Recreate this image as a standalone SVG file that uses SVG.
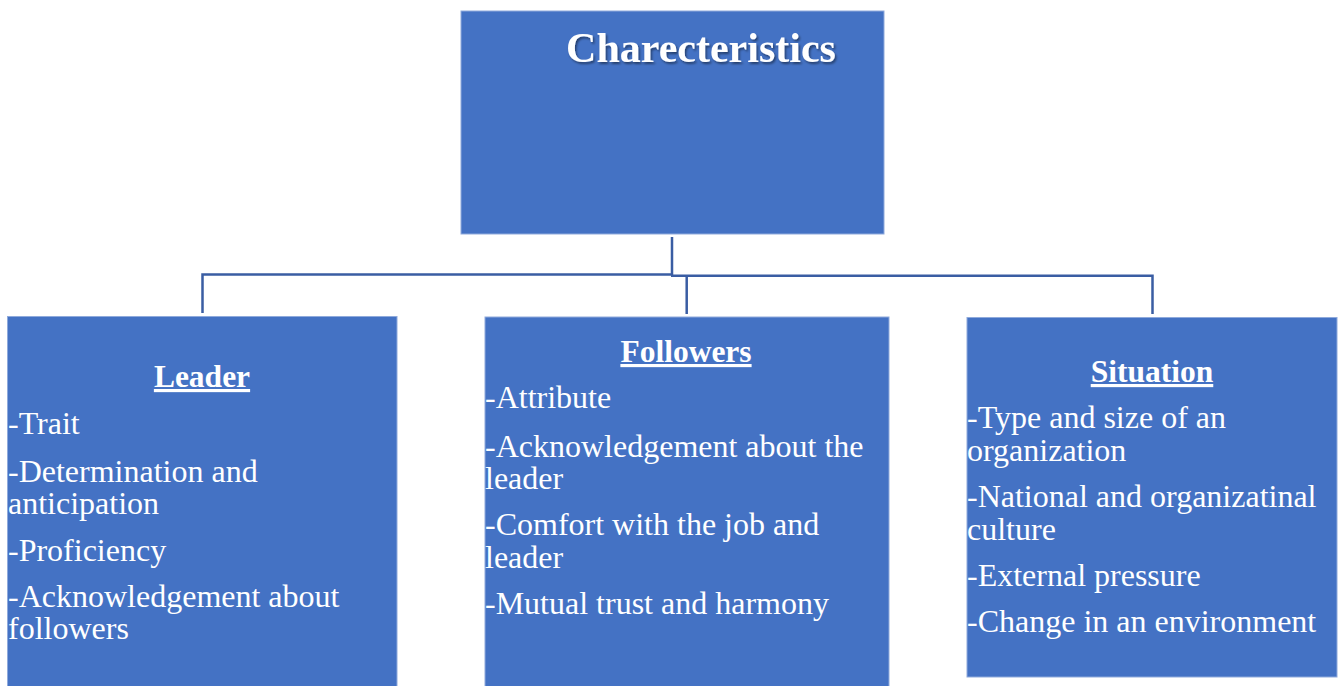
<svg xmlns="http://www.w3.org/2000/svg" width="1341" height="686" viewBox="0 0 1341 686">
<style>
.box{fill:#4472C4;stroke:#8FAADC;stroke-width:1}
.conn{stroke:#3A5DA3;stroke-width:2.5;fill:none}
text{font-family:"Liberation Serif","Times New Roman",serif;fill:#fff}
.item{font-size:32px}
.head{font-size:31.5px;font-weight:bold;text-decoration:underline;text-anchor:middle}
.title{font-size:42px;font-weight:bold;text-anchor:middle}
</style>
<defs>
<filter id="sh" x="-10%" y="-30%" width="120%" height="160%">
<feDropShadow dx="1.5" dy="2" stdDeviation="1.2" flood-color="#000" flood-opacity="0.45"/>
</filter>
</defs>
<rect width="1341" height="686" fill="#fff"/>
<g id="connectors">
<path class="conn" d="M672,237 V274.5 M202.5,313 V274.5 H673 M671,275.7 H1152.5 V314 M686.7,275.7 V314"/>
</g>
<g id="characteristics">
<rect class="box" x="461" y="11" width="423" height="223"/>
<text class="title" x="701" y="62" filter="url(#sh)">Charecteristics</text>
</g>
<g id="leader">
<rect class="box" x="7.5" y="316.5" width="389.5" height="372"/>
<text class="head" x="202" y="387">Leader</text>
<text class="item" x="8" y="434">-Trait</text>
<text class="item" x="8" y="482">-Determination and</text>
<text class="item" x="8" y="514">anticipation</text>
<text class="item" x="8" y="561">-Proficiency</text>
<text class="item" x="8" y="607">-Acknowledgement about</text>
<text class="item" x="8" y="639">followers</text>
</g>
<g id="followers">
<rect class="box" x="485" y="317" width="404" height="372"/>
<text class="head" x="686" y="362">Followers</text>
<text class="item" x="485" y="408">-Attribute</text>
<text class="item" x="485" y="457">-Acknowledgement about the</text>
<text class="item" x="485" y="489">leader</text>
<text class="item" x="485" y="535">-Comfort with the job and</text>
<text class="item" x="485" y="568">leader</text>
<text class="item" x="485" y="614">-Mutual trust and harmony</text>
</g>
<g id="situation">
<rect class="box" x="967" y="317.5" width="370" height="359.5"/>
<text class="head" x="1152" y="382">Situation</text>
<text class="item" x="967" y="428">-Type and size of an</text>
<text class="item" x="967" y="461">organization</text>
<text class="item" x="967" y="507">-National and organizatinal</text>
<text class="item" x="967" y="540">culture</text>
<text class="item" x="967" y="586">-External pressure</text>
<text class="item" x="967" y="632">-Change in an environment</text>
</g>
</svg>
